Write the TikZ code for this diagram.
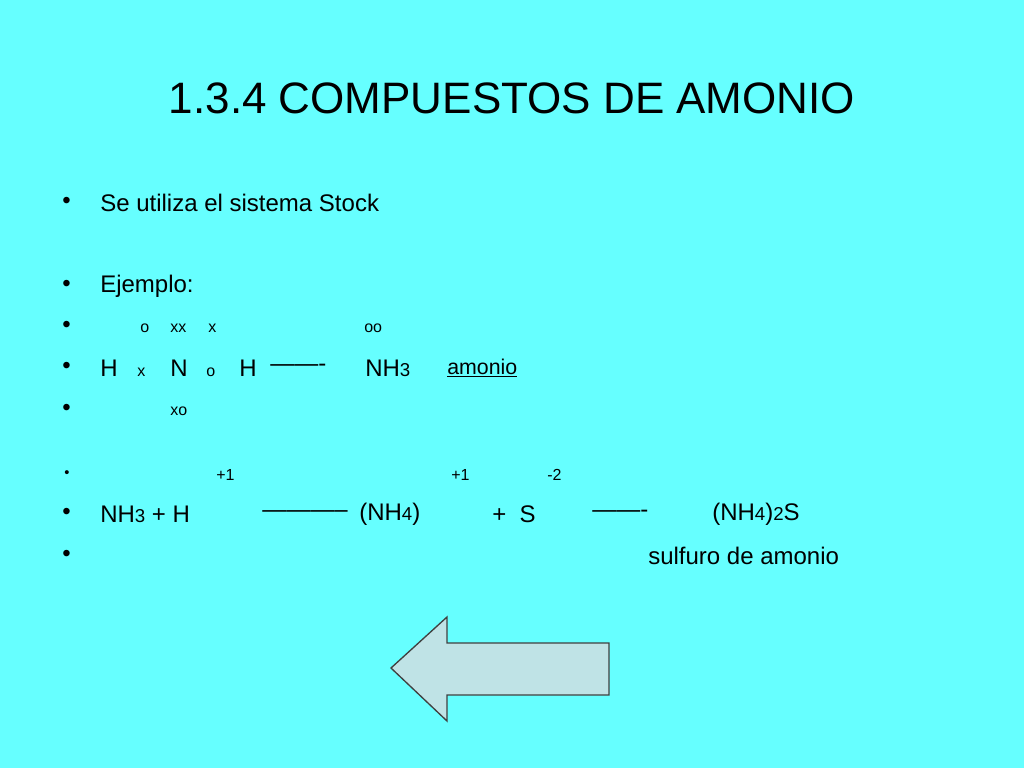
\documentclass[tikz,border=0pt]{standalone}
\usepackage{fontspec}
\setmainfont{Liberation Sans}
\definecolor{bg}{HTML}{66FFFF}
\definecolor{arrowfill}{HTML}{BFE3E6}
\begin{document}
\begin{tikzpicture}[x=0.75pt,y=-0.75pt,
  t/.style={anchor=west,inner sep=0pt,font=\fontsize{18pt}{20pt}\selectfont},
  s/.style={anchor=west,inner sep=0pt,font=\fontsize{12pt}{14pt}\selectfont},
  bul/.style={anchor=west,inner sep=0pt,font=\fontsize{18pt}{20pt}\selectfont}]
\fill[bg] (0,0) rectangle (1024,768);
\useasboundingbox (0,0) rectangle (1024,768);
\node[inner sep=0pt,font=\fontsize{33pt}{36pt}\selectfont] (title) at (512,98) {1.3.4 COMPUESTOS DE AMONIO};
\foreach \y/\n in {203/b1,286/b2,327/b3,368/b4,410/b5,514/b7,556/b8}
  \node[bul] (\n) at (62,\y) {•};
\node[anchor=west,inner sep=0pt,font=\fontsize{11pt}{12pt}\selectfont] (b6) at (64,474) {•};
\node[t] (l1) at (100,203) {Se utiliza el sistema Stock};
\node[t] (l2) at (100,286) {Ejemplo:};
\node[s] (a1) at (140,328) {o};
\node[s] (a2) at (170,328) {xx};
\node[s] (a3) at (208,328) {x};
\node[s] (a4) at (364,328) {oo};
\node[t] (h1) at (100,368) {H};
\node[s] (x1) at (137,372) {x};
\node[t] (n1) at (170,368) {N};
\node[s] (o1) at (206,372) {o};
\node[t] (h2) at (239,368) {H};
\node[t] (d1) at (270,368) {-------};
\node[t] (nh3) at (365,368) {NH\fontsize{14pt}{16pt}\selectfont 3};
\node[t] (am) at (447,368) {\fontsize{16pt}{18pt}\selectfont\underline{amonio}};
\node[s] (xo) at (170,411) {xo};
\node[s] (p1) at (216,475) {+1};
\node[s] (p2) at (451,475) {+1};
\node[s] (p3) at (547,475) {-2};
\node[t] (e1) at (100,514) {NH\fontsize{14pt}{16pt}\selectfont 3\fontsize{18pt}{20pt}\selectfont{} + H};
\node[t] (e2) at (262,514) {-----------};
\node[t] (e3) at (359,514) {(NH\fontsize{14pt}{16pt}\selectfont 4\fontsize{18pt}{20pt}\selectfont)};
\node[t] (e4) at (492,514) {+\ \ S};
\node[t] (e5) at (592,514) {-------};
\node[t] (e6) at (712,514) {(NH\fontsize{14pt}{16pt}\selectfont 4\fontsize{18pt}{20pt}\selectfont)\fontsize{14pt}{16pt}\selectfont 2\fontsize{18pt}{20pt}\selectfont S};
\node[t] (e7) at (648,556) {sulfuro de amonio};
\draw[fill=arrowfill,draw=black!75,line width=1pt] (391,668) -- (447,617) -- (447,643) -- (609,643) -- (609,695) -- (447,695) -- (447,721) -- cycle;
\end{tikzpicture}
\end{document}
